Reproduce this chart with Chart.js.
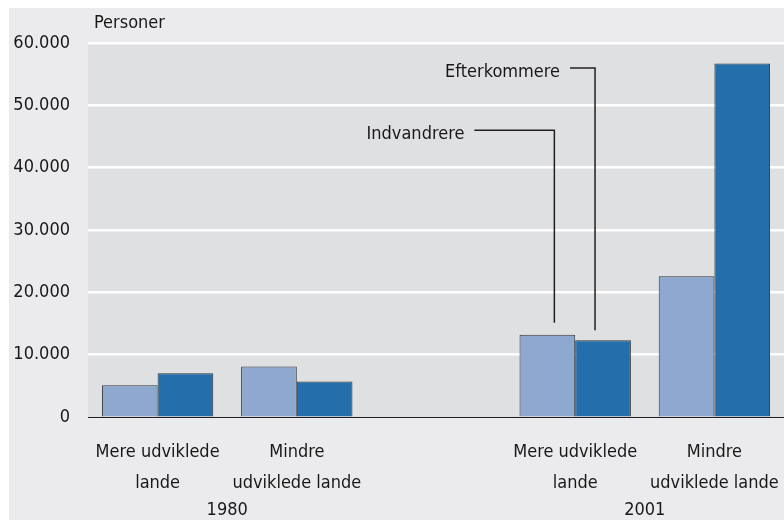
<!DOCTYPE html>
<html>
<head>
<meta charset="utf-8">
<script src="https://cdn.jsdelivr.net/npm/chart.js@4/dist/chart.umd.min.js"></script>
<style>
  html, body { margin: 0; padding: 0; background: #ffffff; }
  #wrap { position: absolute; left: 9px; top: 8px; width: 775px; height: 512px; background: #ebebed; }
</style>
</head>
<body>
<div id="wrap"><canvas id="chart"></canvas></div>
<script>
// data
const categories = [
    ['Mere udviklede', 'lande'],
    ['Mindre', 'udviklede lande'],
    '',
    ['Mere udviklede', 'lande'],
    ['Mindre', 'udviklede lande']
];
const indvandrere = [5100, 8100, null, 13200, 22600];
const efterkommere = [7000, 5700, null, 12300, 56700];
const years = ['1980', '2001'];
const yearGroups = [[0, 1], [3, 4]];
const yTicks = [0, 10000, 20000, 30000, 40000, 50000, 60000];

const FONT = "'DejaVu Sans Condensed', 'DejaVu Sans', sans-serif";
const TEXT = '#1a1718';

function fmt(v) {
    return String(v).replace(/\B(?=(\d{3})+(?!\d))/g, '.');
}

// grey plot background, year labels, "Personer", and the two callouts
const extras = {
    id: 'extras',
    beforeDraw(chart) {
        const { ctx, chartArea: a } = chart;
        ctx.save();
        ctx.fillStyle = '#dfe0e2';
        ctx.fillRect(a.left, a.top, a.right - a.left, a.bottom - a.top);
        ctx.restore();
    },
    afterDraw(chart) {
        const { ctx, chartArea: a, scales } = chart;
        const x = scales.x, y = scales.y;
        ctx.save();
        ctx.font = '18px ' + FONT;
        ctx.fillStyle = TEXT;
        ctx.textBaseline = 'middle';

        ctx.textAlign = 'left';
        ctx.fillText('Personer', a.left + 6, a.top - 20);

        ctx.textAlign = 'center';
        yearGroups.forEach((g, i) => {
            const cx = (x.getPixelForValue(g[0]) + x.getPixelForValue(g[1])) / 2;
            ctx.fillText(years[i], cx, a.bottom + 93);
        });

        // callouts point at the 2001 "Mere udviklede lande" bars
        const callouts = [
            { label: 'Indvandrere', ds: 0, at: 46000, arm: 80, dx: 7, gap: 12 },
            { label: 'Efterkommere', ds: 1, at: 56000, arm: 25, dx: -8, gap: 10 }
        ];
        ctx.strokeStyle = '#231f20';
        ctx.lineWidth = 1.5;
        callouts.forEach(c => {
            const bar = chart.getDatasetMeta(c.ds).data[3];
            const vx = bar.x + c.dx;
            const hy = y.getPixelForValue(c.at);
            ctx.beginPath();
            ctx.moveTo(vx - c.arm, hy);
            ctx.lineTo(vx, hy);
            ctx.lineTo(vx, bar.y - c.gap);
            ctx.stroke();
            ctx.textAlign = 'right';
            ctx.fillText(c.label, vx - c.arm - 10, hy + 4);
        });
        ctx.restore();
    }
};

new Chart(document.getElementById('chart'), {
    type: 'bar',
    data: {
        labels: categories,
        datasets: [
            {
                label: 'Indvandrere',
                data: indvandrere,
                backgroundColor: '#8fa8d0',
                borderColor: '#333335',
                borderWidth: 1
            },
            {
                label: 'Efterkommere',
                data: efterkommere,
                backgroundColor: '#236eab',
                borderColor: '#333335',
                borderWidth: 1
            }
        ]
    },
    options: {
        responsive: true,
        maintainAspectRatio: false,
        animation: false,
        layout: { autoPadding: false, padding: { top: 35, right: 0, left: 0, bottom: 0 } },
        plugins: {
            legend: { display: false },
            tooltip: { enabled: false }
        },
        datasets: {
            bar: { categoryPercentage: 0.8, barPercentage: 1.0 }
        },
        scales: {
            x: {
                grid: { display: false, drawTicks: false },
                border: { display: true, color: '#231f20', width: 1 },
                ticks: {
                    color: TEXT,
                    font: { family: FONT, size: 18, lineHeight: 1.7 },
                    padding: 20,
                    maxRotation: 0,
                    autoSkip: false
                },
                afterFit(scale) {
                    scale.height = 103;
                    scale.paddingLeft = 0;
                    scale.paddingRight = 0;
                }
            },
            y: {
                min: 0,
                max: 60000,
                afterBuildTicks(scale) {
                    scale.ticks = yTicks.map(v => ({ value: v }));
                },
                grid: {
                    color: ctx => ctx.tick && ctx.tick.value === 0 ? '#231f20' : '#ffffff',
                    lineWidth: ctx => ctx.tick && ctx.tick.value === 0 ? 1 : 2.5,
                    drawTicks: false
                },
                border: { display: false },
                ticks: {
                    color: TEXT,
                    font: { family: FONT, size: 18 },
                    padding: 18,
                    callback: v => fmt(v)
                },
                afterFit(scale) { scale.width = 79; }
            }
        }
    },
    plugins: [extras]
});
</script>
</body>
</html>
